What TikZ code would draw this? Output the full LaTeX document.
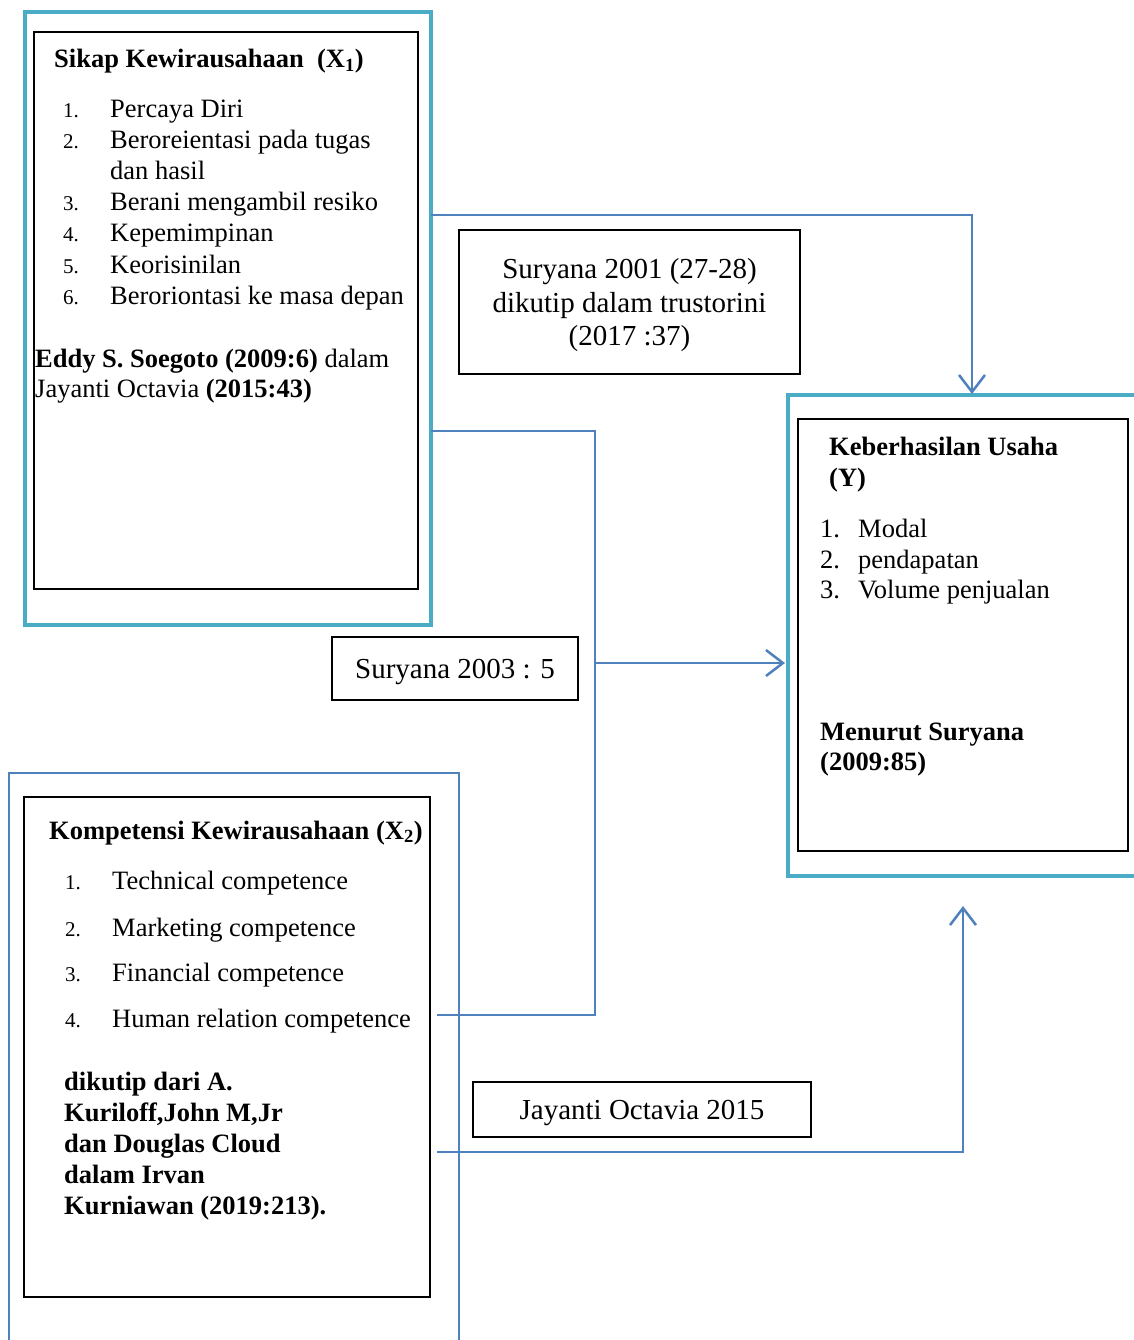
\documentclass[tikz,border=0pt]{standalone}
\usepackage{fontspec}
\setmainfont{Liberation Serif}
\usetikzlibrary{arrows.meta}
\definecolor{tealline}{RGB}{75,172,198}
\definecolor{blueline}{RGB}{79,129,189}
\newcommand*{\boxfont}{\fontsize{26.5}{31}\selectfont}
\newcommand*{\numfont}{\fontsize{21}{31}\selectfont}
\newcommand*{\labfont}{\fontsize{29}{33.5}\selectfont}

\begin{document}
\begin{tikzpicture}[x=1pt, y=-1pt,
    outerbox/.style={draw=tealline, line width=4.5pt, inner sep=0pt, outer sep=0pt, anchor=north west},
    framebox/.style={draw=black, line width=2.5pt, inner sep=0pt, outer sep=0pt, anchor=north west},
    labelbox/.style={draw=black, line width=2.5pt, inner sep=0pt, outer sep=0pt, anchor=north west,
        font=\labfont, align=center, text depth=0pt},
    txt/.style={anchor=base west, inner sep=0pt, font=\boxfont},
    conn/.style={draw=blueline, line width=2pt},
    tip/.style={-{Straight Barb[length=17pt, width=26pt, line width=2.5pt]}}]
    \useasboundingbox (0,0) rectangle (1134,1340);
    \clip (0,0) rectangle (1134,1340);

    % X1 box
    \node [outerbox, minimum width=406pt, minimum height=613pt] (xoneout) at (25,12) {};
    \node [framebox, minimum width=384pt, minimum height=557pt] (xonebox) at (34,32) {};
    \node [txt, font=\boxfont\bfseries] (xonetitle) at (54,68) {Sikap Kewirausahaan \ (X\textsubscript{1})};
    \foreach \y/\n/\t [count=\i] in {118/1./Percaya Diri, 149/2./Beroreientasi pada tugas, 180//dan hasil,
        211/3./Berani mengambil resiko, 242/4./Kepemimpinan, 273/5./Keorisinilan, 304/6./Beroriontasi ke masa depan}{
        \node [txt, font=\numfont] (xonenum\i) at (63,\y) {\n};
        \node [txt] (xoneitem\i) at (110,\y) {\t};
    }
    \node [txt] (xonesrca) at (35,367) {\textbf{Eddy S. Soegoto (2009:6)} dalam};
    \node [txt] (xonesrcb) at (35,397) {Jayanti Octavia \textbf{(2015:43)}};

    % Y box
    \node [outerbox, minimum width=360pt, minimum height=481pt] (yout) at (788,395) {};
    \node [framebox, minimum width=330pt, minimum height=432pt] (ybox) at (798,419) {};
    \node [txt, font=\boxfont\bfseries] (ytitlea) at (829,455) {Keberhasilan Usaha};
    \node [txt, font=\boxfont\bfseries] (ytitleb) at (829,486) {(Y)};
    \foreach \y/\n/\t [count=\i] in {537/1./Modal, 568/2./pendapatan, 598/3./Volume penjualan}{
        \node [txt] (ynum\i) at (820,\y) {\n};
        \node [txt] (yitem\i) at (858,\y) {\t};
    }
    \node [txt, font=\boxfont\bfseries] (ysrca) at (820,740) {Menurut Suryana};
    \node [txt, font=\boxfont\bfseries] (ysrcb) at (820,770) {(2009:85)};

    % X2 box
    \node [draw=blueline, line width=2pt, inner sep=0pt, outer sep=0pt, anchor=north west,
        minimum width=450pt, minimum height=600pt] (xtwoout) at (9,773) {};
    \node [framebox, minimum width=406pt, minimum height=500pt] (xtwobox) at (24,797) {};
    \node [txt, font=\boxfont\bfseries] (xtwotitle) at (49,839) {Kompetensi Kewirausahaan (X\textsubscript{2})};
    \foreach \y/\n/\t [count=\i] in {889/1./Technical competence, 936/2./Marketing competence,
        981/3./Financial competence, 1027/4./Human relation competence}{
        \node [txt, font=\numfont] (xtwonum\i) at (65,\y) {\n};
        \node [txt] (xtwoitem\i) at (112,\y) {\t};
    }
    \foreach \y/\t [count=\i] in {1090/dikutip dari A., 1121/{Kuriloff,John M,Jr}, 1152/dan Douglas Cloud,
        1183/dalam Irvan, 1214/Kurniawan (2019:213).}{
        \node [txt, font=\boxfont\bfseries] (xtwosrc\i) at (64,\y) {\t};
    }

    % label boxes
    \node [labelbox, minimum width=341pt, minimum height=144pt] (lbla) at (459,230)
        {Suryana 2001 (27-28)\\dikutip dalam trustorini\\(2017 :37)};
    \node [labelbox, minimum width=246pt, minimum height=63pt] (lblb) at (332,637) {Suryana 2003 : 5};
    \node [labelbox, minimum width=338pt, minimum height=55pt] (lblc) at (473,1082) {Jayanti Octavia 2015};

    % connectors
    \coordinate (aone) at (431,215);
    \coordinate (atwo) at (431,431);
    \coordinate (jtop) at (595,431);
    \coordinate (jmid) at (595,663);
    \coordinate (btwo) at (437,1015);
    \coordinate (bthree) at (437,1152);
    \coordinate (yintop) at (972,394);
    \coordinate (yinleft) at (785,663);
    \coordinate (yinbot) at (963,906);
    \draw [conn, tip] (aone) -| (yintop);
    \draw [conn] (atwo) -- (jtop) |- (btwo);
    \draw [conn, tip] (jmid) -- (yinleft);
    \draw [conn, tip] (bthree) -| (yinbot);
\end{tikzpicture}
\end{document}
